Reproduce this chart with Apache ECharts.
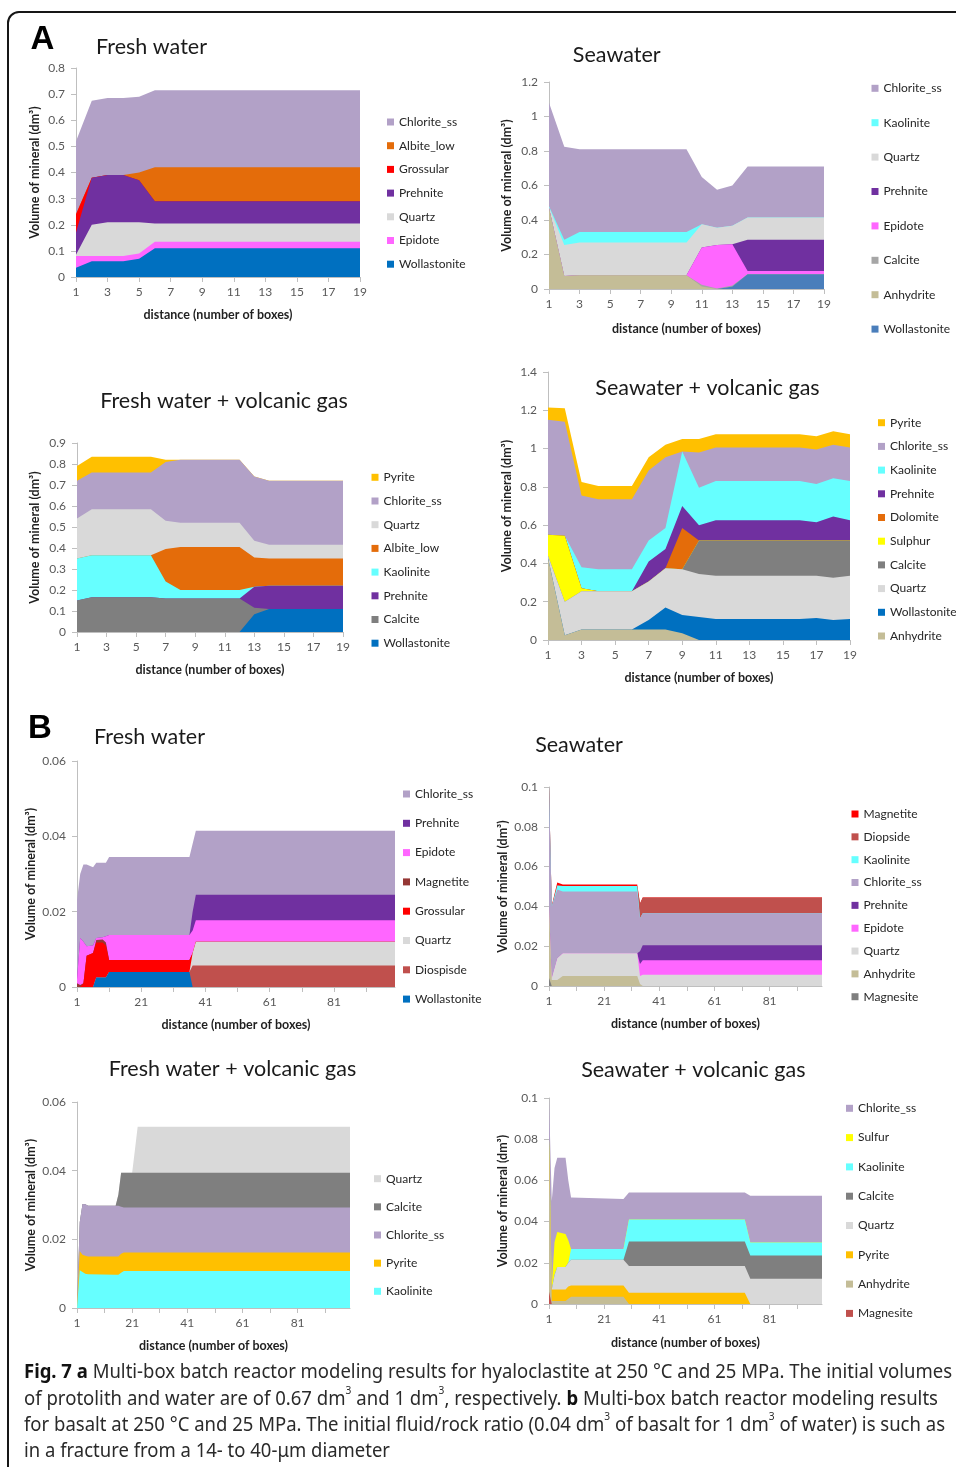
<!DOCTYPE html>
<html><head><meta charset="utf-8">
<script src="https://cdn.jsdelivr.net/npm/echarts@6/dist/echarts.min.js"></script>
<style>
html,body{margin:0;padding:0;background:#fff;}
#wrap{position:relative;width:956px;height:1467px;overflow:hidden;background:#fff;}
#chart{position:absolute;left:0;top:0;width:956px;height:1467px;}
#frame{position:absolute;left:7px;top:11px;width:1000px;height:1500px;border:2px solid #161616;border-radius:12px;pointer-events:none;}
.cap{position:absolute;left:24px;white-space:nowrap;font-family:"Noto Sans";font-size:20px;line-height:26px;color:#2a2a2a;transform-origin:0 50%;}
.cap b{font-weight:bold;color:#111;}
.cap sup{font-size:11px;line-height:0;position:relative;top:-3px;}
</style></head>
<body>
<div id="wrap">
<div id="chart"></div>
<div id="frame"></div>
<div class="cap" id="c1" style="top:1358px"><b>Fig. 7</b> <b>a</b> Multi-box batch reactor modeling results for hyaloclastite at 250 °C and 25 MPa. The initial volumes</div>
<div class="cap" id="c2" style="top:1384.5px">of protolith and water are of 0.67 dm<sup>3</sup> and 1 dm<sup>3</sup>, respectively. <b>b</b> Multi-box batch reactor modeling results</div>
<div class="cap" id="c3" style="top:1410.5px">for basalt at 250 °C and 25 MPa. The initial fluid/rock ratio (0.04 dm<sup>3</sup> of basalt for 1 dm<sup>3</sup> of water) is such as</div>
<div class="cap" id="c4" style="top:1437px">in a fracture from a 14- to 40-μm diameter</div>
</div>
<script>
// ---------------- tick labels ----------------
const aXTicks = [1,3,5,7,9,11,13,15,17,19];
const bXLabels = [1,21,41,61,81];
const bXTicks = [1,11,21,31,41,51,61,71,81,91];
const panelTitles = ['Fresh water','Seawater','Fresh water + volcanic gas','Seawater + volcanic gas',
                     'Fresh water','Seawater','Fresh water + volcanic gas','Seawater + volcanic gas'];
const xName = 'distance (number of boxes)';
const yName = 'Volume of mineral (dm³)';

// ---------------- A1 Fresh water ----------------
const a1X = [1,2,3,4,5,6,7,8,9,10,11,12,13,14,15,16,17,18,19];
const a1Wollastonite = [0.035,0.06,0.06,0.06,0.07,0.11,0.11,0.11,0.11,0.11,0.11,0.11,0.11,0.11,0.11,0.11,0.11,0.11,0.11];
const a1Epidote      = [0.045,0.02,0.02,0.02,0.02,0.025,0.025,0.025,0.025,0.025,0.025,0.025,0.025,0.025,0.025,0.025,0.025,0.025,0.025];
const a1Quartz       = [0.005,0.12,0.13,0.13,0.12,0.07,0.07,0.07,0.07,0.07,0.07,0.07,0.07,0.07,0.07,0.07,0.07,0.07,0.07];
const a1Prehnite     = [0.085,0.18,0.18,0.18,0.16,0.085,0.085,0.085,0.085,0.085,0.085,0.085,0.085,0.085,0.085,0.085,0.085,0.085,0.085];
const a1Grossular    = [0.07,0,0,0,0,0,0,0,0,0,0,0,0,0,0,0,0,0,0];
const a1Albite       = [0,0,0,0,0.03,0.13,0.13,0.13,0.13,0.13,0.13,0.13,0.13,0.13,0.13,0.13,0.13,0.13,0.13];
const a1Chlorite     = [0.28,0.295,0.295,0.295,0.29,0.295,0.295,0.295,0.295,0.295,0.295,0.295,0.295,0.295,0.295,0.295,0.295,0.295,0.295];

// ---------------- A2 Seawater ----------------
const a2X = [1,2,3,4,5,6,7,8,9,10,11,12,13,14,15,16,17,18,19];
const a2Wollastonite = [0,0,0,0,0,0,0,0,0,0,0,0,0.015,0.085,0.085,0.085,0.085,0.085,0.085];
const a2Anhydrite    = [0.47,0.075,0.08,0.08,0.08,0.08,0.08,0.08,0.08,0.08,0.015,0,0,0,0,0,0,0,0];
const a2Calcite      = [0,0,0,0,0,0,0,0,0,0,0.01,0.003,0.005,0,0,0,0,0,0];
const a2Epidote      = [0,0,0,0,0,0,0,0,0,0,0.215,0.252,0.24,0.02,0.02,0.02,0.02,0.02,0.02];
const a2Prehnite     = [0,0,0,0,0,0,0,0,0,0,0,0,0,0.18,0.18,0.18,0.18,0.18,0.18];
const a2Quartz       = [0.005,0.18,0.19,0.19,0.19,0.19,0.19,0.19,0.19,0.19,0.135,0.1,0.107,0.13,0.13,0.13,0.13,0.13,0.13];
const a2Kaolinite    = [0.005,0.03,0.06,0.06,0.06,0.06,0.06,0.06,0.06,0.06,0,0,0,0,0,0,0,0,0];
const a2Chlorite     = [0.6,0.54,0.48,0.48,0.48,0.48,0.48,0.48,0.48,0.48,0.275,0.22,0.233,0.295,0.295,0.295,0.295,0.295,0.295];

// ---------------- A3 Fresh water + volcanic gas ----------------
const a3X = [1,2,3,4,5,6,7,8,9,10,11,12,13,14,15,16,17,18,19];
const a3Wollastonite = [0,0,0,0,0,0,0,0,0,0,0,0,0.085,0.11,0.11,0.11,0.11,0.11,0.11];
const a3Calcite      = [0.15,0.165,0.165,0.165,0.165,0.165,0.16,0.16,0.16,0.16,0.16,0.16,0.03,0,0,0,0,0,0];
const a3Prehnite     = [0,0,0,0,0,0,0,0,0,0,0,0,0.1,0.11,0.11,0.11,0.11,0.11,0.11];
const a3Kaolinite    = [0.2,0.2,0.2,0.2,0.2,0.2,0.08,0.04,0.04,0.04,0.04,0.04,0,0,0,0,0,0,0];
const a3Albite       = [0,0,0,0,0,0,0.155,0.205,0.205,0.205,0.205,0.205,0.14,0.13,0.13,0.13,0.13,0.13,0.13];
const a3Quartz       = [0.19,0.22,0.22,0.22,0.22,0.22,0.135,0.115,0.115,0.115,0.115,0.115,0.08,0.065,0.065,0.065,0.065,0.065,0.065];
const a3Chlorite     = [0.18,0.175,0.175,0.175,0.175,0.175,0.28,0.3,0.3,0.3,0.3,0.3,0.305,0.305,0.305,0.305,0.305,0.305,0.305];
const a3Pyrite       = [0.07,0.075,0.075,0.075,0.075,0.075,0.01,0,0,0,0,0,0,0,0,0,0,0,0];

// ---------------- A4 Seawater + volcanic gas ----------------
const a4X = [1,2,3,4,5,6,7,8,9,10,11,12,13,14,15,16,17,18,19];
const a4Anhydrite    = [0.43,0.025,0.055,0.055,0.055,0.055,0.055,0.055,0.035,0,0,0,0,0,0,0,0,0,0];
const a4Wollastonite = [0,0,0,0,0,0,0.05,0.115,0.095,0.12,0.11,0.11,0.11,0.11,0.11,0.11,0.115,0.105,0.11];
const a4Quartz       = [0.01,0.175,0.2,0.2,0.2,0.2,0.2,0.205,0.24,0.225,0.225,0.225,0.225,0.225,0.225,0.225,0.22,0.22,0.225];
const a4Calcite      = [0,0,0,0,0,0,0,0,0,0.175,0.185,0.185,0.185,0.185,0.185,0.185,0.185,0.195,0.185];
const a4Sulphur      = [0.11,0.345,0.015,0,0,0,0,0,0,0,0,0,0,0,0,0,0,0,0];
const a4Dolomite     = [0,0,0,0,0,0,0,0,0.215,0,0,0,0,0,0,0,0,0,0];
const a4Prehnite     = [0,0,0,0,0,0,0.105,0.1,0.115,0.08,0.105,0.105,0.105,0.105,0.105,0.105,0.095,0.125,0.105];
const a4Kaolinite    = [0,0,0.11,0.115,0.115,0.115,0.11,0.11,0.285,0.195,0.205,0.205,0.205,0.205,0.205,0.205,0.2,0.2,0.205];
const a4Chlorite     = [0.6,0.595,0.375,0.365,0.365,0.365,0.365,0.37,0,0.185,0.175,0.175,0.175,0.175,0.175,0.175,0.18,0.175,0.175];
const a4Pyrite       = [0.065,0.07,0.07,0.07,0.07,0.07,0.07,0.065,0.065,0.07,0.07,0.07,0.07,0.07,0.07,0.07,0.07,0.07,0.07];

// ---------------- B1 Fresh water ----------------
const b1X = [1,2,3,4,6,7,9,10,11,36,37,38,100];
const b1Wollastonite = [0,0,0,0,0,0.0025,0.0025,0.0025,0.004,0.004,0,0,0];
const b1Diopside     = [0,0,0,0,0,0,0,0,0,0,0.0057,0.0057,0.0057];
const b1Quartz       = [0,0,0,0,0,0,0,0,0,0,0.0033,0.0063,0.0063];
const b1Grossular    = [0,0,0.001,0.0083,0.009,0.0093,0.0093,0.0085,0.0032,0.0032,0,0,0];
const b1Magnetite    = [0.001,0.0005,0,0,0,0.0007,0.0008,0.0008,0,0,0,0,0];
const b1Epidote      = [0.001,0.0125,0.011,0.0025,0.002,0.0005,0.0006,0.0017,0.0066,0.0066,0.006,0.0057,0.0057];
const b1Prehnite     = [0,0,0,0,0,0,0,0,0,0,0.005,0.0068,0.0068];
const b1Chlorite     = [0.021,0.017,0.0205,0.0217,0.0208,0.02,0.0198,0.0195,0.0207,0.0207,0.018,0.017,0.017];

// ---------------- B2 Seawater ----------------
const b2X = [1,2,4,6,33,34,35,100];
const b2Magnesite  = [0.004,0,0,0,0,0,0,0];
const b2Anhydrite  = [0.036,0.003,0.003,0.005,0.005,0.001,0,0];
const b2Quartz     = [0,0.001,0.011,0.0115,0.0115,0.004,0.0057,0.0057];
const b2Epidote    = [0,0,0,0,0,0.006,0.0073,0.0073];
const b2Prehnite   = [0,0,0,0,0,0.0065,0.0075,0.0075];
const b2Chlorite   = [0.06,0.036,0.0345,0.031,0.031,0.0165,0.016,0.016];
const b2Kaolinite  = [0,0,0.002,0.0028,0.0028,0,0,0];
const b2Diopside   = [0,0,0,0,0,0.0075,0.008,0.008];
const b2Magnetite  = [0,0.0005,0.0015,0.0007,0.0007,0,0,0];

// ---------------- B3 Fresh water + volcanic gas ----------------
const b3X = [1,2,3,4,5,15,16,17,18,21,22,23,100];
const b3Kaolinite = [0,0.011,0.0105,0.01,0.0098,0.0097,0.0097,0.0103,0.0108,0.0108,0.0108,0.0108,0.0108];
const b3Pyrite    = [0,0.0055,0.005,0.0052,0.0052,0.0053,0.0053,0.0055,0.0054,0.0054,0.0054,0.0054,0.0054];
const b3Chlorite  = [0,0.0085,0.0148,0.015,0.0148,0.0148,0.0148,0.0137,0.0131,0.0131,0.0131,0.0131,0.0131];
const b3Calcite   = [0,0,0,0,0,0,0.0032,0.0099,0.0101,0.0101,0.0101,0.0101,0.0101];
const b3Quartz    = [0,0,0,0,0,0,0,0,0,0,0.0066,0.0134,0.0134];

// ---------------- B4 Seawater + volcanic gas ----------------
const b4X = [1,2,3,4,7,8,9,28,30,72,74,100];
const b4Magnesite = [0.006,0,0,0,0,0,0,0,0,0,0,0];
const b4Anhydrite = [0.074,0.0015,0.0015,0.0015,0.0015,0.0025,0.0035,0.0035,0,0,0,0];
const b4Pyrite    = [0,0.0055,0.0055,0.0055,0.0055,0.006,0.0055,0.0055,0.0055,0.0055,0,0];
const b4Quartz    = [0,0,0.007,0.011,0.011,0.0115,0.0125,0.0125,0.013,0.013,0.0123,0.0123];
const b4Calcite   = [0,0,0,0,0,0,0,0,0.0118,0.0118,0.0112,0.0112];
const b4Kaolinite = [0,0,0,0,0,0,0.0052,0.0052,0.0107,0.0107,0.0063,0.0063];
const b4Sulfur    = [0,0.001,0.016,0.017,0.016,0.011,0,0,0,0,0,0];
const b4Chlorite  = [0.02,0.042,0.036,0.036,0.037,0.029,0.025,0.0243,0.0131,0.0131,0.0227,0.0227];

// ---------------- colours ----------------
const C = {
  chl:'#b2a1c7', alb:'#e46c0a', gro:'#ff0000', pre:'#7030a0', qtz:'#d9d9d9', epi:'#ff66ff',
  wol:'#0070c0', wol2:'#4a7ebb', kao:'#66ffff', cal:'#7f7f7f', cal2:'#a6a6a6', anh:'#c4bd97',
  pyr:'#ffc000', sul:'#ffff00', dol:'#e46c0a', mag:'#953735', mag2:'#ff0000', dio:'#c0504d',
  mgs:'#7f7f7f', mgs2:'#c0504d'
};

// layers listed bottom -> top; legend listed top -> bottom (as in the figure)
const panels = [
  { X:a1X, layers:[['Wollastonite',a1Wollastonite,C.wol],['Epidote',a1Epidote,C.epi],['Quartz',a1Quartz,C.qtz],
      ['Prehnite',a1Prehnite,C.pre],['Grossular',a1Grossular,C.gro],['Albite_low',a1Albite,C.alb],['Chlorite_ss',a1Chlorite,C.chl]],
    legend:['Chlorite_ss','Albite_low','Grossular','Prehnite','Quartz','Epidote','Wollastonite'] },
  { X:a2X, layers:[['Wollastonite',a2Wollastonite,C.wol2],['Anhydrite',a2Anhydrite,C.anh],['Calcite',a2Calcite,C.cal2],
      ['Epidote',a2Epidote,C.epi],['Prehnite',a2Prehnite,C.pre],['Quartz',a2Quartz,C.qtz],['Kaolinite',a2Kaolinite,C.kao],['Chlorite_ss',a2Chlorite,C.chl]],
    legend:['Chlorite_ss','Kaolinite','Quartz','Prehnite','Epidote','Calcite','Anhydrite','Wollastonite'] },
  { X:a3X, layers:[['Wollastonite',a3Wollastonite,C.wol],['Calcite',a3Calcite,C.cal],['Prehnite',a3Prehnite,C.pre],
      ['Kaolinite',a3Kaolinite,C.kao],['Albite_low',a3Albite,C.alb],['Quartz',a3Quartz,C.qtz],['Chlorite_ss',a3Chlorite,C.chl],['Pyrite',a3Pyrite,C.pyr]],
    legend:['Pyrite','Chlorite_ss','Quartz','Albite_low','Kaolinite','Prehnite','Calcite','Wollastonite'] },
  { X:a4X, layers:[['Anhydrite',a4Anhydrite,C.anh],['Wollastonite',a4Wollastonite,C.wol],['Quartz',a4Quartz,C.qtz],
      ['Calcite',a4Calcite,C.cal],['Sulphur',a4Sulphur,C.sul],['Dolomite',a4Dolomite,C.dol],['Prehnite',a4Prehnite,C.pre],
      ['Kaolinite',a4Kaolinite,C.kao],['Chlorite_ss',a4Chlorite,C.chl],['Pyrite',a4Pyrite,C.pyr]],
    legend:['Pyrite','Chlorite_ss','Kaolinite','Prehnite','Dolomite','Sulphur','Calcite','Quartz','Wollastonite','Anhydrite'] },
  { X:b1X, layers:[['Wollastonite',b1Wollastonite,C.wol],['Diospisde',b1Diopside,C.dio],['Quartz',b1Quartz,C.qtz],
      ['Grossular',b1Grossular,C.gro],['Magnetite',b1Magnetite,C.mag],['Epidote',b1Epidote,C.epi],['Prehnite',b1Prehnite,C.pre],['Chlorite_ss',b1Chlorite,C.chl]],
    legend:['Chlorite_ss','Prehnite','Epidote','Magnetite','Grossular','Quartz','Diospisde','Wollastonite'] },
  { X:b2X, layers:[['Magnesite',b2Magnesite,C.mgs],['Anhydrite',b2Anhydrite,C.anh],['Quartz',b2Quartz,C.qtz],['Epidote',b2Epidote,C.epi],
      ['Prehnite',b2Prehnite,C.pre],['Chlorite_ss',b2Chlorite,C.chl],['Kaolinite',b2Kaolinite,C.kao],['Diopside',b2Diopside,C.dio],['Magnetite',b2Magnetite,C.mag2]],
    legend:['Magnetite','Diopside','Kaolinite','Chlorite_ss','Prehnite','Epidote','Quartz','Anhydrite','Magnesite'] },
  { X:b3X, layers:[['Kaolinite',b3Kaolinite,C.kao],['Pyrite',b3Pyrite,C.pyr],['Chlorite_ss',b3Chlorite,C.chl],['Calcite',b3Calcite,C.cal],['Quartz',b3Quartz,C.qtz]],
    legend:['Quartz','Calcite','Chlorite_ss','Pyrite','Kaolinite'] },
  { X:b4X, layers:[['Magnesite',b4Magnesite,C.mgs2],['Anhydrite',b4Anhydrite,C.anh],['Pyrite',b4Pyrite,C.pyr],['Quartz',b4Quartz,C.qtz],
      ['Calcite',b4Calcite,C.cal],['Kaolinite',b4Kaolinite,C.kao],['Sulfur',b4Sulfur,C.sul],['Chlorite_ss',b4Chlorite,C.chl]],
    legend:['Chlorite_ss','Sulfur','Kaolinite','Calcite','Quartz','Pyrite','Anhydrite','Magnesite'] }
];

// ---------------- layout (positions / sizes) ----------------
const layout = [
  {grid:[76,68,284,209],   ymax:0.8,  yint:0.1,  xmax:19,  leg:[387,115,9.7],   yGap:35, xGap:31, title:[151.5,47]},
  {grid:[549,82,275,207],  ymax:1.2,  yint:0.2,  xmax:19,  leg:[871.5,81.3,20.4], yGap:36, xGap:33, title:[616.7,55]},
  {grid:[77,443,266,189],  ymax:0.9,  yint:0.1,  xmax:19,  leg:[371.5,470.3,9.7], yGap:36, xGap:31, title:[224,400.7]},
  {grid:[548,372,302,268], ymax:1.4,  yint:0.2,  xmax:19,  leg:[878,415.7,9.7],  yGap:35, xGap:31.5, title:[707.5,388.3]},
  {grid:[77,761,318,226],  ymax:0.06, yint:0.02, xmax:100, leg:[403,787,15.3],   yGap:40, xGap:31, title:[149.5,737.3]},
  {grid:[549,787,273,199], ymax:0.1,  yint:0.02, xmax:100, leg:[851.5,807,8.84], yGap:40, xGap:31, title:[579,745]},
  {grid:[77,1102,273,206], ymax:0.06, yint:0.02, xmax:100, leg:[374,1171.7,14.15], yGap:40, xGap:31, title:[232.5,1069]},
  {grid:[549,1098,273,206],ymax:0.1,  yint:0.02, xmax:100, leg:[846,1101.3,15.3], yGap:40, xGap:32, title:[693.3,1070]}
];

const FONT = 'Lato';
const AXC = '#bfbfbf';
const grids=[], xAxes=[], yAxes=[], legends=[], series=[], graphics=[];
const nameStyle = {fontFamily:FONT, fontWeight:'bold', fontSize:12.5, color:'#1f1f1f'};

panels.forEach((p, pi) => {
  const L = layout[pi];
  const isA = pi < 4;
  grids.push({left:L.grid[0], top:L.grid[1], width:L.grid[2], height:L.grid[3], containLabel:false});
  xAxes.push({
    type:'value', gridIndex:pi, min:1, max:L.xmax,
    axisLine:{show:true, onZero:false, lineStyle:{color:AXC, width:1}},
    axisTick:{show:true, length:5, lineStyle:{color:AXC}, customValues: isA ? aXTicks : bXTicks},
    axisLabel:{customValues: isA ? aXTicks : bXLabels, fontFamily:FONT, fontSize:12, color:'#595959', margin:9},
    splitLine:{show:false},
    name:xName, nameLocation:'middle', nameGap:L.xGap, nameTextStyle:nameStyle
  });
  yAxes.push({
    type:'value', gridIndex:pi, min:0, max:L.ymax, interval:L.yint,
    axisLine:{show:true, lineStyle:{color:AXC, width:1}},
    axisTick:{show:true, length:5, lineStyle:{color:AXC}},
    axisLabel:{fontFamily:FONT, fontSize:12, color:'#595959', margin:11},
    splitLine:{show:false},
    name:yName, nameLocation:'middle', nameRotate:90, nameGap:L.yGap, nameTextStyle:nameStyle
  });
  // cumulative tops, bottom -> top
  const tops = [];
  let run = null;
  p.layers.forEach(l => { run = run ? run.map((r,i)=>r+l[1][i]) : l[1].slice(); tops.push(run.slice()); });
  // draw from top layer downwards so lower layers paint over
  for (let k = p.layers.length-1; k >= 0; k--) {
    const [name, , color] = p.layers[k];
    series.push({
      type:'line', name:name+'#'+pi, xAxisIndex:pi, yAxisIndex:pi,
      data:p.X.map((x,i)=>[x, tops[k][i]]),
      symbol:'none', showSymbol:false, color:color,
      lineStyle:{width:0, color:color}, itemStyle:{color:color},
      areaStyle:{color:color, opacity:1, origin:'start'},
      silent:true, animation:false
    });
  }
  legends.push({
    orient:'vertical', left:L.leg[0], top:L.leg[1], itemGap:L.leg[2], padding:0,
    itemWidth:7, itemHeight:7, icon:'rect', selectedMode:false,
    itemStyle:{borderWidth:0},
    textStyle:{fontFamily:FONT, fontSize:12, color:'#262626', lineHeight:14},
    formatter:n => n.split('#')[0],
    data:p.legend.map(n => n+'#'+pi)
  });
  graphics.push({type:'text', x:L.title[0], y:L.title[1], silent:true,
    style:{text:panelTitles[pi], font:'21.5px "'+FONT+'"', fill:'#1a1a1a', textAlign:'center', textVerticalAlign:'middle'}});
});
graphics.push({type:'text', x:42.5, y:40, silent:true, style:{text:'A', font:'bold 33px "Liberation Sans"', fill:'#000', textAlign:'center', textVerticalAlign:'middle'}});
graphics.push({type:'text', x:40, y:729, silent:true, style:{text:'B', font:'bold 33px "Liberation Sans"', fill:'#000', textAlign:'center', textVerticalAlign:'middle'}});

const chart = echarts.init(document.getElementById('chart'), null, {renderer:'canvas'});
chart.setOption({
  animation:false, backgroundColor:'transparent',
  grid:grids, xAxis:xAxes, yAxis:yAxes, legend:legends, series:series, graphic:graphics
});

// fit caption lines to the widths of the original justified text
const capTargets = {c1:928, c2:914, c3:921, c4:366};
function fitCaption(){
  Object.keys(capTargets).forEach(id => {
    const el = document.getElementById(id);
    el.style.transform = 'none';
    const w = el.getBoundingClientRect().width;
    el.style.transform = 'scaleX(' + (capTargets[id]/w) + ')';
  });
}
fitCaption();
if (document.fonts && document.fonts.ready) document.fonts.ready.then(fitCaption);
</script>
</body></html>
